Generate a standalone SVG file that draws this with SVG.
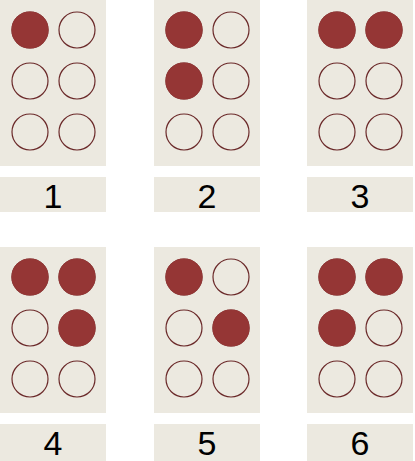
<svg xmlns="http://www.w3.org/2000/svg" width="415" height="461" viewBox="0 0 415 461">
<style>
.bg{fill:#ece9e0}
.dot{stroke:#6b2a2a;stroke-width:1.2;fill:#ece9e0}
.on{fill:#953635;stroke:#953635}
.lbl{font-family:"Liberation Sans",Arial,sans-serif;font-size:34px;fill:#000;text-anchor:middle}
</style>
<rect width="415" height="461" fill="#ffffff"/>
<defs>
<g id="cell">
<rect class="bg" x="0" y="0" width="106" height="166"/>
<circle class="dot" cx="30" cy="30" r="18"/>
<circle class="dot" cx="77" cy="30" r="18"/>
<circle class="dot" cx="30" cy="81" r="18"/>
<circle class="dot" cx="77" cy="81" r="18"/>
<circle class="dot" cx="30" cy="132" r="18"/>
<circle class="dot" cx="77" cy="132" r="18"/>
</g>
</defs>
<g id="node1">
<use href="#cell" x="0" y="0"/>
<circle class="dot on" cx="30" cy="30" r="18"/>
<rect class="bg" x="0" y="177" width="106" height="35"/>
<text class="lbl" x="53" y="208">1</text>
</g>
<g id="node2">
<use href="#cell" x="154" y="0"/>
<circle class="dot on" cx="184" cy="30" r="18"/>
<circle class="dot on" cx="184" cy="81" r="18"/>
<rect class="bg" x="154" y="177" width="106" height="35"/>
<text class="lbl" x="207" y="208">2</text>
</g>
<g id="node3">
<use href="#cell" x="307" y="0"/>
<circle class="dot on" cx="337" cy="30" r="18"/>
<circle class="dot on" cx="384" cy="30" r="18"/>
<rect class="bg" x="307" y="177" width="106" height="35"/>
<text class="lbl" x="360" y="208">3</text>
</g>
<g id="node4">
<use href="#cell" x="0" y="247"/>
<circle class="dot on" cx="30" cy="277" r="18"/>
<circle class="dot on" cx="77" cy="277" r="18"/>
<circle class="dot on" cx="77" cy="328" r="18"/>
<rect class="bg" x="0" y="424" width="106" height="37"/>
<text class="lbl" x="53" y="455">4</text>
</g>
<g id="node5">
<use href="#cell" x="154" y="247"/>
<circle class="dot on" cx="184" cy="277" r="18"/>
<circle class="dot on" cx="231" cy="328" r="18"/>
<rect class="bg" x="154" y="424" width="106" height="37"/>
<text class="lbl" x="207" y="455">5</text>
</g>
<g id="node6">
<use href="#cell" x="307" y="247"/>
<circle class="dot on" cx="337" cy="277" r="18"/>
<circle class="dot on" cx="384" cy="277" r="18"/>
<circle class="dot on" cx="337" cy="328" r="18"/>
<rect class="bg" x="307" y="424" width="106" height="37"/>
<text class="lbl" x="360" y="455">6</text>
</g>
<g id="connectors"></g>
</svg>
